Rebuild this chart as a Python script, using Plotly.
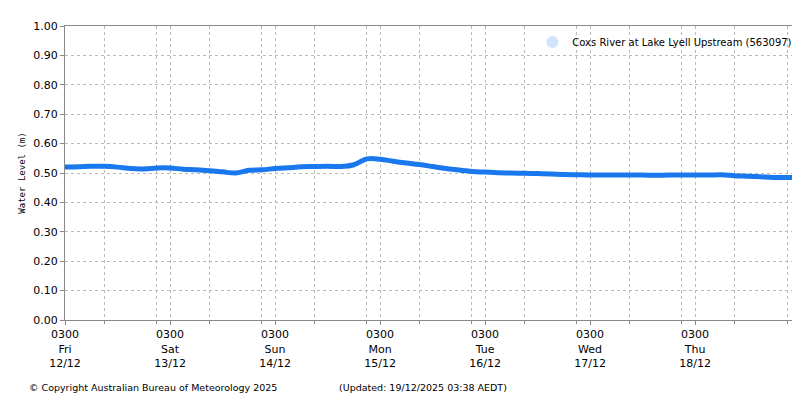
import plotly.graph_objects as go
import pandas as pd

start = pd.Timestamp("2025-12-12 03:00")
levels = [0.520,0.521,0.523,0.523,0.520,0.515,0.514,0.517,0.517,0.513,0.511,0.508,0.504,0.500,
          0.509,0.511,0.515,0.518,0.521,0.522,0.523,0.522,0.528,0.548,0.547,0.540,0.534,0.529,
          0.522,0.515,0.510,0.505,0.503,0.501,0.500,0.499,0.498,0.497,0.495,0.494,0.493,0.493,
          0.493,0.493,0.493,0.492,0.493,0.493,0.493,0.493,0.494,0.491,0.489,0.487,0.485,0.485,0.485]
times = [start + pd.Timedelta(hours=3*i) for i in range(len(levels))]
tick_vals = [start + pd.Timedelta(days=d) for d in range(7)]
tick_text = ["0300<br>Fri<br>12/12","0300<br>Sat<br>13/12","0300<br>Sun<br>14/12","0300<br>Mon<br>15/12",
             "0300<br>Tue<br>16/12","0300<br>Wed<br>17/12","0300<br>Thu<br>18/12"]
series_name = "Coxs River at Lake Lyell Upstream (563097)"
color = "#1a78ee"

fig = go.Figure()
fig.add_trace(go.Scatter(x=times, y=levels, mode="lines", line=dict(color=color, width=5, shape="spline"), showlegend=False))
fig.add_trace(go.Scatter(x=times, y=levels, mode="markers", marker=dict(color=color, size=4, opacity=0), name=series_name))
fig.update_layout(
    width=800, height=400, margin=dict(l=57, r=7, t=18, b=88, autoexpand=False),
    paper_bgcolor="white", plot_bgcolor="white",
    font=dict(family="DejaVu Sans", size=11, color="black"),
    legend=dict(x=0.995, y=0.995, xanchor="right", yanchor="top", bgcolor="rgba(255,255,255,0)",
                font=dict(size=10), itemsizing="constant"),
    xaxis=dict(range=[start, start + pd.Timedelta(hours=168.2)], tickvals=tick_vals, ticktext=tick_text,
               automargin=False,
               showgrid=True, gridcolor="#bbbbbb", griddash="dot", showline=True, linecolor="#888", mirror=True,
               ticks="outside", ticklen=4, tickcolor="#888",
               minor=dict(dtick=12*3600*1000, showgrid=True, gridcolor="#bbbbbb", griddash="dot",
                          ticks="outside", ticklen=3, tickcolor="#888"),
               tickangle=0),
    yaxis=dict(range=[0, 1], dtick=0.1, tickformat=".2f", automargin=False, showgrid=True, gridcolor="#bbbbbb", griddash="dot",
               showline=True, linecolor="#888", mirror=True, ticks="outside", ticklen=4, tickcolor="#888",
               title=dict(text="Water Level (m)", font=dict(family="DejaVu Sans Mono", size=9), standoff=6)),
)
fig.add_annotation(text="© Copyright Australian Bureau of Meteorology 2025", xref="paper", yref="paper",
                   x=-0.052, y=-0.23, xanchor="left", yanchor="middle", showarrow=False, font=dict(size=9.5))
fig.add_annotation(text="(Updated: 19/12/2025 03:38 AEDT)", xref="paper", yref="paper",
                   x=0.37, y=-0.23, xanchor="left", yanchor="middle", showarrow=False, font=dict(size=9.5))
fig.write_html("out.html")
